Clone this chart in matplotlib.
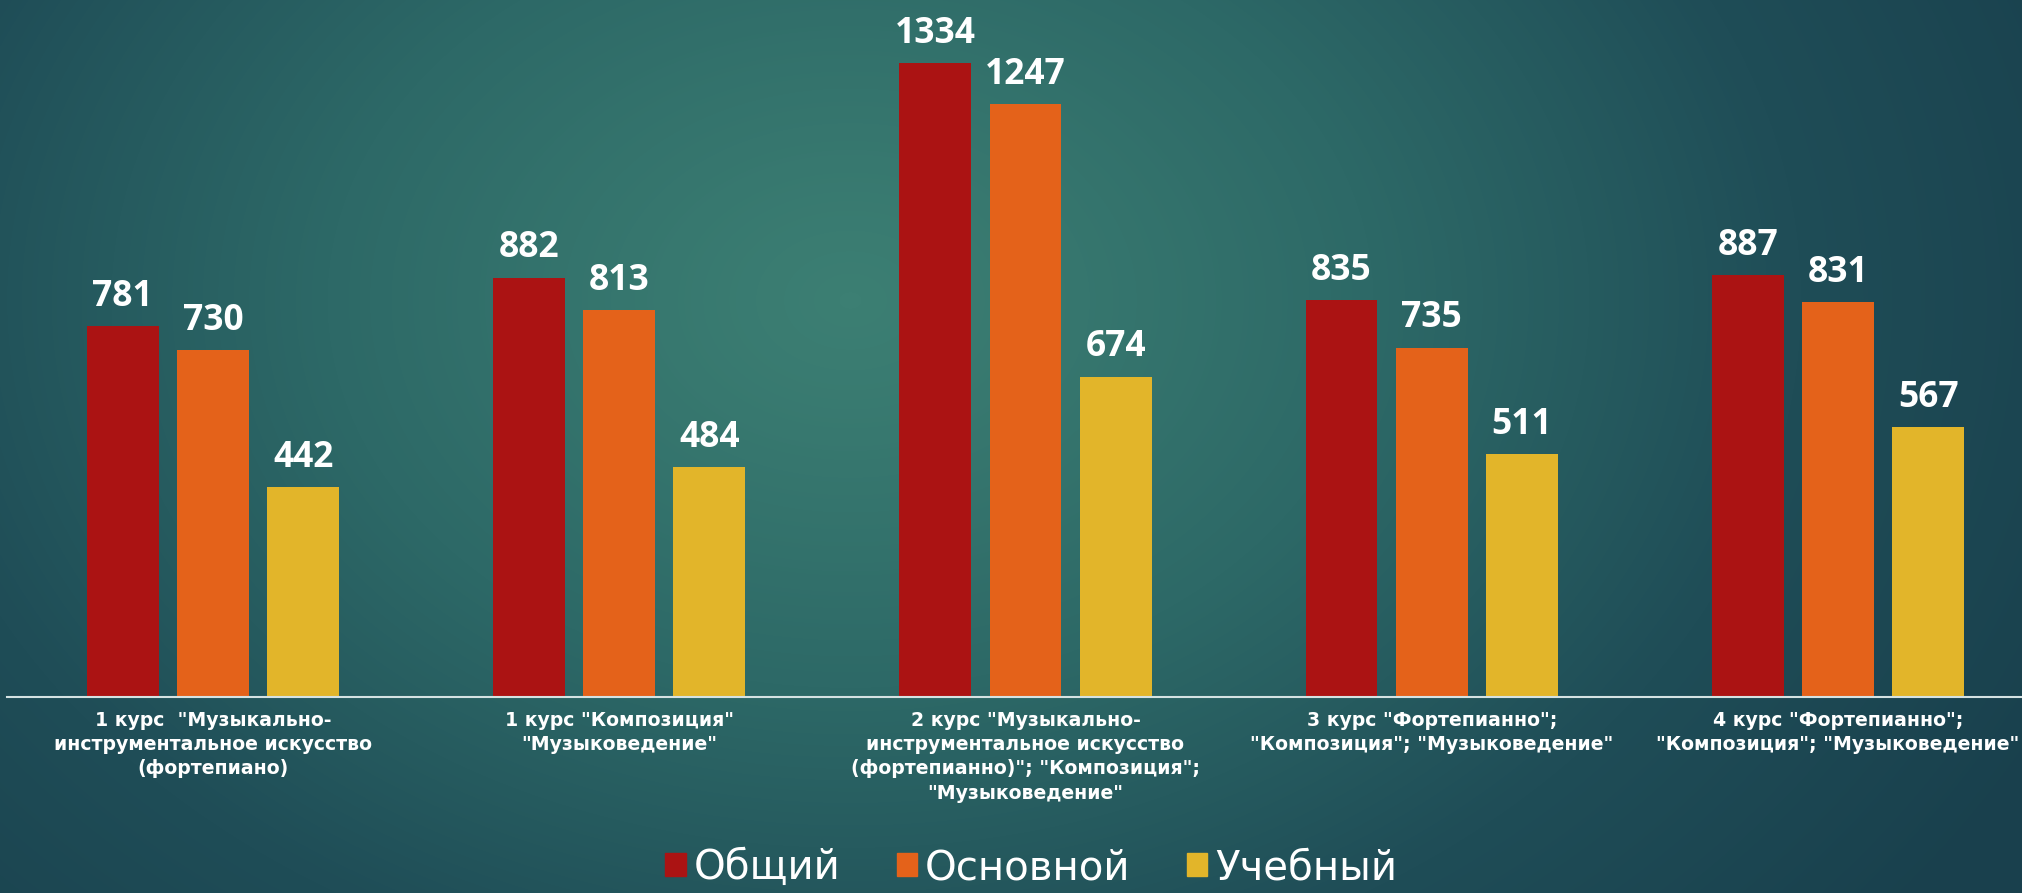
import numpy as np
import matplotlib
matplotlib.use("Agg")
import matplotlib.pyplot as plt
from matplotlib.colors import LinearSegmentedColormap
from matplotlib.patches import Patch

plt.rcParams['font.family'] = ['Open Sans', 'DejaVu Sans']

categories = [
    '1 курс  "Музыкально-\nинструментальное искусство\n(фортепиано)',
    '1 курс "Композиция"\n"Музыковедение"',
    '2 курс "Музыкально-\nинструментальное искусство\n(фортепианно)"; "Композиция";\n"Музыковедение"',
    '3 курс "Фортепианно";\n"Композиция"; "Музыковедение"',
    '4 курс "Фортепианно";\n"Композиция"; "Музыковедение"',
]
series_names = ['Общий', 'Основной', 'Учебный']
obshchiy = [781, 882, 1334, 835, 887]
osnovnoy = [730, 813, 1247, 735, 831]
uchebnyy = [442, 484, 674, 511, 567]
colors = ['#ab1313', '#e4621a', '#e2b52a']

W, H = 2022, 893
fig = plt.figure(figsize=(W / 100, H / 100), dpi=100)

# radial teal background
bg = fig.add_axes([0, 0, 1, 1], zorder=0)
yy, xx = np.mgrid[0:H, 0:W]
d = np.sqrt(((xx - 850) / 1350.0) ** 2 + ((yy - 300) / 1000.0) ** 2)
d = np.clip(d, 0, 1) ** 1.15
cmap = LinearSegmentedColormap.from_list('bg', ['#3c7f73', '#2d6967', '#1f4d57', '#19404d'])
bg.imshow(d, cmap=cmap, aspect='auto', extent=[0, W, H, 0], vmin=0, vmax=1)
bg.axis('off')

base_y = 697
ax = fig.add_axes([7 / W, (H - base_y) / H, (W - 7) / W, base_y / H], zorder=1)
ax.patch.set_alpha(0)

x = np.arange(len(categories))
step = 0.222
width = 0.177
for i, (vals, c) in enumerate(zip([obshchiy, osnovnoy, uchebnyy], colors)):
    pos = x + (i - 1) * step
    ax.bar(pos, vals, width=width, color=c, zorder=2)
    for px, v in zip(pos, vals):
        ax.annotate(str(v), (px, v), xytext=(0, 8), textcoords='offset points',
                    ha='center', va='bottom', color='white', fontsize=25.5,
                    fontweight='bold')

ax.set_xlim(-0.507, 4.453)
ax.set_ylim(0, base_y / 0.4755)
ax.set_yticks([])
for s in ['top', 'right', 'left']:
    ax.spines[s].set_visible(False)
ax.spines['bottom'].set_color('#d5e2e2')
ax.spines['bottom'].set_linewidth(1.5)
ax.set_xticks(x)
ax.set_xticklabels(categories, fontsize=13.6, fontweight='bold', color='white',
                   linespacing=1.35, family=['DejaVu Sans'])
ax.tick_params(axis='x', length=0, pad=10)

handles = [Patch(color=c) for c in colors]
fig.legend(handles, series_names, loc='lower center', bbox_to_anchor=(0.51, -0.035),
           ncol=3, frameon=False, prop={'family': 'DejaVu Sans', 'size': 29},
           labelcolor='white', handlelength=0.5, handleheight=0.5,
           handletextpad=0.2, columnspacing=1.4)

fig.savefig('out.png', dpi=100)
